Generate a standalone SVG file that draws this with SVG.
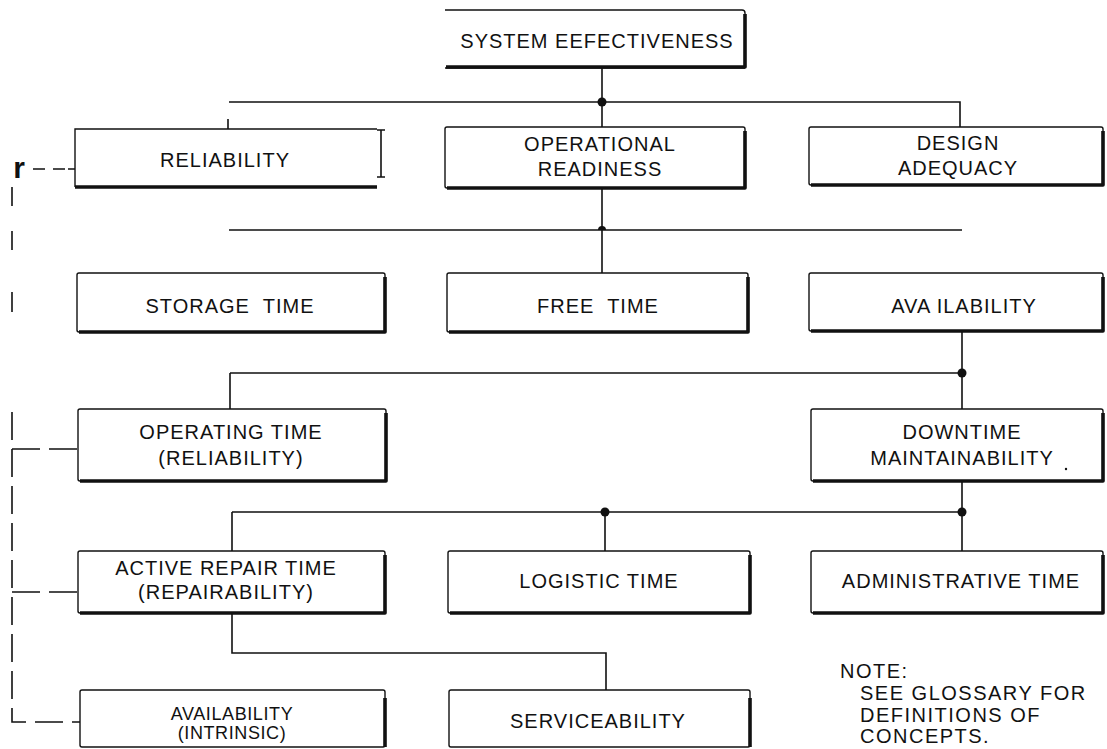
<svg xmlns="http://www.w3.org/2000/svg" width="1107" height="749" viewBox="0 0 1107 749">
<style>
.box{fill:#fff;stroke:#111;stroke-width:1.4}
.sh{fill:none;stroke:#111;stroke-width:3.6;stroke-linejoin:round}
.ln{fill:none;stroke:#111;stroke-width:1.6}
.dash{fill:none;stroke:#111;stroke-width:1.6}
.dot{fill:#111}
text{font-family:"Liberation Sans",Arial,sans-serif;font-size:20px;fill:#111;text-anchor:middle;letter-spacing:1px;white-space:pre}
.note{text-anchor:start;letter-spacing:1.5px}
</style>
<rect width="1107" height="749" fill="#fff"/>
<g id="connectors">
  <path class="ln" d="M602 68 V127 M229 102 H960 V127 M228 119 V129"/>
  <circle class="dot" cx="602" cy="102" r="4.5"/>
  <path class="ln" d="M602 188 V273 M229 230 H962"/>
  <path class="dot" d="M598 230 A4 4 0 0 1 606 230 Z"/>
  <path class="ln" d="M962 332 V409 M230 373 H962 M230 373 V409"/>
  <circle class="dot" cx="962" cy="373" r="4.5"/>
  <path class="ln" d="M962 481 V551 M232 512 H962 M605 512 V551 M232 512 V551"/>
  <circle class="dot" cx="605" cy="512" r="4.5"/>
  <circle class="dot" cx="962" cy="512" r="4.5"/>
  <path class="ln" d="M232 613 V653 H606 V690"/>
  <text x="19" y="178" style="font-size:30px;font-weight:bold;letter-spacing:0">r</text>
  <path class="dash" d="M33 169 H45 M53 169 H65 M68 169 H75"/>
  <path class="dash" d="M12 187 V206 M12 231 V250 M12 292 V312"/>
  <path class="dash" d="M12 412 V722 H80 M12 449 H78 M12 592 H78" stroke-dasharray="28 9"/>
</g>
<g id="n-system">
  <path class="box" d="M445 10 H742 Q745 10 745 13 V66 M445 68 H745" style="fill:none"/>
  <path class="sh" d="M745 14 V67 H446"/>
  <text x="597" y="48">SYSTEM EEFECTIVENESS</text>
</g>
<g id="n-reliability">
  <path class="box" d="M377 129 H75 V187" style="fill:none"/>
  <path class="sh" d="M75 187 H377"/>
  <path class="ln" d="M381 130 V177 M377 130 H385 M377 177 H385"/>
  <text x="225" y="167">RELIABILITY</text>
</g>
<g id="n-opread">
  <rect class="box" x="445" y="127" width="300" height="61" rx="2"/>
  <path class="sh" d="M745 131 V188 H447"/>
  <text x="600" y="151">OPERATIONAL</text>
  <text x="600" y="176">READINESS</text>
</g>
<g id="n-design">
  <rect class="box" x="809" y="127" width="294" height="58" rx="2"/>
  <path class="sh" d="M1103 131 V185 H811"/>
  <text x="958" y="150">DESIGN</text>
  <text x="958" y="175">ADEQUACY</text>
</g>
<g id="n-storage">
  <rect class="box" x="77" y="273" width="308" height="59" rx="2"/>
  <path class="sh" d="M385 277 V332 H79"/>
  <text x="230" y="313">STORAGE  TIME</text>
</g>
<g id="n-free">
  <rect class="box" x="447" y="273" width="301" height="59" rx="2"/>
  <path class="sh" d="M748 277 V332 H449"/>
  <text x="598" y="313">FREE  TIME</text>
</g>
<g id="n-availability">
  <rect class="box" x="809" y="273" width="294" height="58" rx="2"/>
  <path class="sh" d="M1103 277 V331 H811"/>
  <text x="964" y="313">AVA ILABILITY</text>
</g>
<g id="n-operating">
  <rect class="box" x="78" y="409" width="308" height="72" rx="2"/>
  <path class="sh" d="M386 413 V481 H80"/>
  <text x="231" y="439">OPERATING TIME</text>
  <text x="231" y="465">(RELIABILITY)</text>
</g>
<g id="n-downtime">
  <rect class="box" x="811" y="409" width="292" height="72" rx="2"/>
  <path class="sh" d="M1103 413 V481 H813"/>
  <text x="962" y="439">DOWNTIME</text>
  <text x="962" y="465">MAINTAINABILITY</text>
  <circle class="dot" cx="1066" cy="469" r="1.2"/>
</g>
<g id="n-active">
  <rect class="box" x="78" y="551" width="307" height="62" rx="2"/>
  <path class="sh" d="M385 555 V613 H80"/>
  <text x="226" y="575">ACTIVE REPAIR TIME</text>
  <text x="226" y="599">(REPAIRABILITY)</text>
</g>
<g id="n-logistic">
  <rect class="box" x="448" y="551" width="302" height="62" rx="2"/>
  <path class="sh" d="M750 555 V613 H450"/>
  <text x="599" y="588">LOGISTIC TIME</text>
</g>
<g id="n-admin">
  <rect class="box" x="811" y="551" width="292" height="62" rx="2"/>
  <path class="sh" d="M1103 555 V613 H813"/>
  <text x="961" y="588">ADMINISTRATIVE TIME</text>
</g>
<g id="n-intrinsic">
  <rect class="box" x="80" y="690" width="305" height="57" rx="2"/>
  <path class="sh" d="M385 698 V747"/>
  <text x="232" y="720" style="font-size:18px;letter-spacing:0.6px">AVAILABILITY</text>
  <text x="232" y="739" style="font-size:18px;letter-spacing:0.6px">(INTRINSIC)</text>
</g>
<g id="n-serviceability">
  <rect class="box" x="449" y="690" width="301" height="57" rx="2"/>
  <path class="sh" d="M750 698 V747"/>
  <text x="598" y="728">SERVICEABILITY</text>
</g>
<g id="note">
  <text class="note" x="840" y="678">NOTE:</text>
  <text class="note" x="860" y="700">SEE GLOSSARY FOR</text>
  <text class="note" x="860" y="722">DEFINITIONS OF</text>
  <text class="note" x="860" y="743">CONCEPTS.</text>
</g>
</svg>
